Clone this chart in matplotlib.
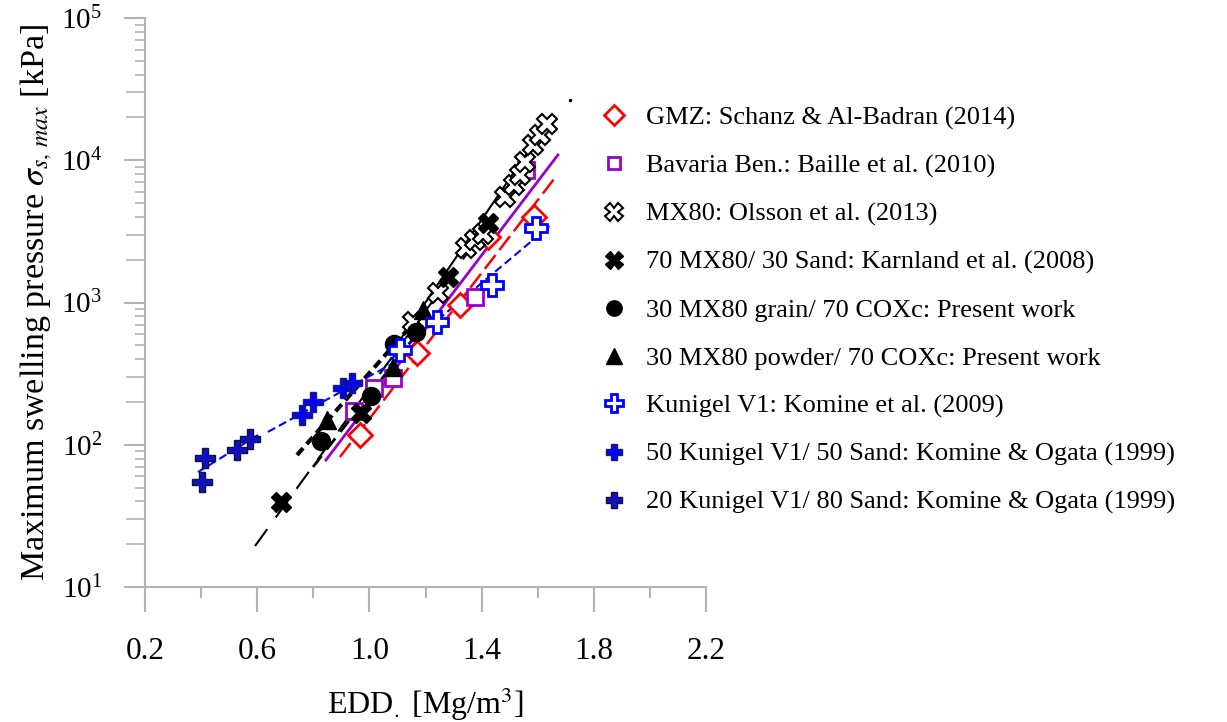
import matplotlib
matplotlib.use("Agg")
import matplotlib.pyplot as plt
from matplotlib.lines import Line2D

plt.rcParams['font.family'] = ['Liberation Serif', 'DejaVu Serif']
plt.rcParams['mathtext.fontset'] = 'stix'

# ---------------- data ----------------
gmz_x = [0.966, 1.170, 1.323, 1.423, 1.587]
gmz_y = [117, 442, 960, 2890, 3990]
gmz_fit_x = [0.895, 1.669]
gmz_fit_y = [82, 7870]

bav_x = [0.945, 1.016, 1.084, 1.376, 1.558]
bav_y = [173, 251, 294, 1094, 8530]
bav_fit_x = [0.845, 1.672]
bav_fit_y = [78, 10900]

mx80_x = [1.155, 1.245, 1.344, 1.376, 1.405, 1.483, 1.516, 1.537, 1.555, 1.583, 1.608, 1.633]
mx80_y = [729, 1167, 2416, 2750, 3035, 5520, 6700, 7870, 9730, 12800, 15100, 18000]
mx80_fit_x = [1.109, 1.637]
mx80_fit_y = [545, 18600]
mx80_end_x = [1.715]
mx80_end_y = [26500]

karn_x = [0.685, 0.970, 1.280, 1.423]
karn_y = [39.5, 167, 1510, 3620]
karn_fit_x = [0.592, 1.430]
karn_fit_y = [19.4, 3680]

grain_x = [0.827, 1.006, 1.088, 1.166]
grain_y = [106, 220, 511, 621]
grain_fit_x = [0.799, 1.180]
grain_fit_y = [69.8, 641]

powder_x = [0.849, 1.084, 1.191]
powder_y = [149, 352, 885]
powder_fit_x = [0.742, 1.198]
powder_fit_y = [84.7, 885]

kun_x = [1.109, 1.241, 1.437, 1.594]
kun_y = [463, 730, 1327, 3340]
kun_fit_x = [1.073, 1.651]
kun_fit_y = [394, 3565]

k50_x = [0.760, 0.799, 0.906, 0.938]
k50_y = [162, 200, 251, 272]
k50_fit_x = [0.638, 1.073]
k50_fit_y = [123, 364]

k20_x = [0.403, 0.414, 0.528, 0.574]
k20_y = [54.7, 80.7, 91.9, 110]
k20_fit_x = [0.389, 0.603]
k20_fit_y = [64.3, 117]

labels = [
    "GMZ: Schanz & Al-Badran (2014)",
    "Bavaria Ben.: Baille et al. (2010)",
    "MX80: Olsson et al. (2013)",
    "70 MX80/ 30 Sand: Karnland et al. (2008)",
    "30 MX80 grain/ 70 COXc: Present work",
    "30 MX80 powder/ 70 COXc: Present work",
    "Kunigel V1: Komine et al. (2009)",
    "50 Kunigel V1/ 50 Sand: Komine & Ogata (1999)",
    "20 Kunigel V1/ 80 Sand: Komine & Ogata (1999)",
]

RED = '#ff0000'
PURPLE = '#9900cc'
BLUE = '#0000ff'
DBLUE = '#1010c8'

fig = plt.figure(figsize=(12.27, 7.22), dpi=100)
ax = fig.add_axes([145/1227, 1-587/722, (706-145)/1227, (587-18)/722])

# ---------------- fit lines ----------------
ax.plot(gmz_fit_x, gmz_fit_y, color=RED, lw=1.8, dashes=(7, 2.5), zorder=2)
ax.plot(bav_fit_x, bav_fit_y, color=PURPLE, lw=2.0, zorder=2)
ax.plot(mx80_fit_x, mx80_fit_y, color='black', lw=1.5, zorder=2)
ax.plot(mx80_end_x, mx80_end_y, 'o', color='black', ms=1.5, zorder=2)
ax.plot(karn_fit_x, karn_fit_y, color='black', lw=1.5, dashes=(10, 7), zorder=2)
ax.plot(grain_fit_x, grain_fit_y, color='black', lw=2.0, dashes=(5, 3), zorder=2)
ax.plot(powder_fit_x, powder_fit_y, color='black', lw=3.0, dashes=(2.2, 1.3), zorder=2)
ax.plot(kun_fit_x, kun_fit_y, color=BLUE, lw=1.5, dashes=(4, 2), zorder=2)
ax.plot(k50_fit_x, k50_fit_y, color=BLUE, lw=1.5, dashes=(4, 2), zorder=2)
ax.plot(k20_fit_x, k20_fit_y, color=BLUE, lw=1.5, dashes=(4, 2), zorder=2)

# ---------------- markers ----------------
styles = [
    dict(marker='D', ms=12, mfc='white', mec=RED, mew=2),
    dict(marker='s', ms=11, mfc='white', mec=PURPLE, mew=2),
    dict(marker='X', ms=15, mfc='white', mec='black', mew=1.5),
    dict(marker='X', ms=15, mfc='black', mec='black', mew=1),
    dict(marker='o', ms=13, mfc='black', mec='black', mew=1),
    dict(marker='^', ms=13, mfc='black', mec='black', mew=1),
    dict(marker='P', ms=16, mfc='white', mec=BLUE, mew=2),
    dict(marker='P', ms=14, mfc=BLUE, mec='#202060', mew=1),
    dict(marker='P', ms=14, mfc=DBLUE, mec='#101030', mew=1),
]
series = [(gmz_x, gmz_y), (bav_x, bav_y), (mx80_x, mx80_y), (karn_x, karn_y),
          (grain_x, grain_y), (powder_x, powder_y), (kun_x, kun_y),
          (k50_x, k50_y), (k20_x, k20_y)]
for (xs, ys), st in zip(series, styles):
    ax.plot(xs, ys, ls='none', zorder=3, **st)

# ---------------- axes ----------------
ax.set_yscale('log')
ax.set_xlim(0.2, 2.2)
ax.set_ylim(10, 1e5)
ax.set_xticks([0.2, 0.6, 1.0, 1.4, 1.8, 2.2])
ax.set_xticklabels(['0.2', '0.6', '1.0', '1.4', '1.8', '2.2'])
ax.set_xticks([0.4, 0.8, 1.2, 1.6, 2.0], minor=True)
decades = [10, 100, 1000, 10000]
ax.set_yticks([d * m for d in decades for m in range(4, 10)], minor=True)
ax.yaxis.set_minor_formatter(plt.NullFormatter())
GRAY = '#b3b3b3'
for s in ['top', 'right']:
    ax.spines[s].set_visible(False)
for s in ['left', 'bottom']:
    ax.spines[s].set_color(GRAY)
    ax.spines[s].set_linewidth(1.5)
ax.tick_params(axis='x', which='major', length=18, width=1.5, color=GRAY, labelsize=22.5, pad=18)
ax.tick_params(axis='x', which='minor', length=8, width=1.5, color=GRAY)
ax.tick_params(axis='y', which='major', length=15, width=1.5, color=GRAY, labelsize=21, pad=16)
ax.tick_params(axis='y', which='minor', length=7, width=1.2, color=GRAY)

# longer secondary minor ticks at 2x and 3x each decade
sec = ax.secondary_yaxis('left')
sec.set_yscale('log')
sec.set_yticks([d * m for d in decades for m in (2, 3)])
sec.set_yticks([], minor=True)
sec.tick_params(axis='y', which='major', length=14, width=1.2, color=GRAY, labelleft=False)
sec.spines['left'].set_visible(False)

ax.set_xlabel("EDD$_{.}$ [Mg/m$^3$]", fontsize=23, labelpad=14)
ax.set_ylabel(r"Maximum swelling pressure $\sigma_{s,\,max}$ [kPa]", fontsize=24.5)
ax.yaxis.set_label_coords((54 - 145) / 561, 0.5)

handles = [Line2D([], [], ls='none', **{**st, 'ms': st['ms'] * 0.85}) for st in styles]
fig.legend(handles, labels, loc='upper left', bbox_to_anchor=(598/1227, 1-106/722),
           frameon=False, fontsize=19, labelspacing=0.92, handletextpad=0.6,
           handlelength=1.2, borderpad=0, borderaxespad=0)

fig.savefig('out.png', dpi=100)
